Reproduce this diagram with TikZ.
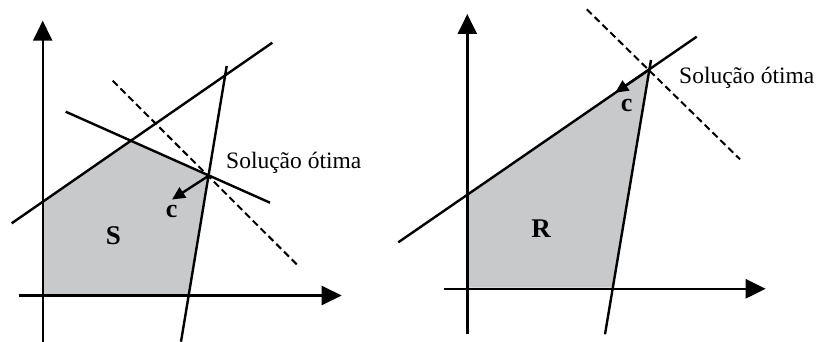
\documentclass[tikz,border=0pt]{standalone}
\usepackage{fontspec}
\setmainfont{Liberation Serif}
\usetikzlibrary{arrows.meta}
\definecolor{regiongray}{RGB}{200,201,203}
\tikzset{
  axis/.style={line width=2.4pt,-{Triangle[length=20pt,width=19pt]}},
  constraint/.style={line width=2.4pt},
  objline/.style={line width=2pt,dash pattern=on 7pt off 4pt},
  cvec/.style={line width=2.4pt,-{Triangle[length=13pt,width=12pt]}},
  region/.style={fill=regiongray},
  optlabel/.style={anchor=base west,inner sep=0pt,font=\fontsize{23.5}{27}\selectfont},
  setlabel/.style={anchor=base,inner sep=0pt,font=\bfseries\fontsize{27}{31}\selectfont},
  veclabel/.style={anchor=base,inner sep=0pt,font=\bfseries\fontsize{26}{30}\selectfont}
}
\begin{document}
\begin{tikzpicture}[x=1pt,y=-1pt]
\useasboundingbox (0,0) rectangle (817,342);
% ---------- left panel ----------
\coordinate (L1a) at (11.7,223.3);
\coordinate (L1b) at (272.3,42.7);
\coordinate (L2a) at (65.7,111.7);
\coordinate (L2b) at (270,202.7);
\coordinate (L3a) at (226.7,66);
\coordinate (L3b) at (181,341.7);
\coordinate (LDa) at (112.7,80.7);
\coordinate (LDb) at (296.7,264.3);
\coordinate (Lopt) at (208.3,176);
\coordinate (Lc) at (172,199.5);
\coordinate (LXa) at (19.3,295.5);
\coordinate (LXb) at (341.7,295.5);
\coordinate (LYa) at (42.7,341.7);
\coordinate (LYb) at (42.7,20.7);
\fill[region] (42.7,201.8) -- (130.9,140.7) -- (Lopt) -- (188.6,294) -- (42.7,294) -- cycle;
\draw[constraint] (L1a) -- (L1b);
\draw[constraint] (L2a) -- (L2b);
\draw[constraint] (L3a) -- (L3b);
\draw[objline] (LDa) -- (LDb);
\draw[axis] (LXa) -- (LXb);
\draw[axis] (LYa) -- (LYb);
\draw[cvec] (Lopt) -- (Lc);
\node[veclabel] (lcl) at (171.7,217) {c};
\node[setlabel] (ls) at (113.3,244.5) {S};
\node[optlabel] (lopt) at (226,168) {Solução ótima};
% ---------- right panel ----------
\coordinate (R1a) at (398.3,242.3);
\coordinate (R1b) at (696.7,36.7);
\coordinate (R2a) at (651,60);
\coordinate (R2b) at (605,334.3);
\coordinate (RDa) at (586.7,9.3);
\coordinate (RDb) at (740,159.3);
\coordinate (Ropt) at (649.3,69.5);
\coordinate (Rc) at (615.3,92.7);
\coordinate (RXa) at (444.3,288.8);
\coordinate (RXb) at (765.7,288.8);
\coordinate (RYa) at (467.3,334.3);
\coordinate (RYb) at (467.3,14);
\fill[region] (467.3,194.8) -- (Ropt) -- (612.9,287.5) -- (467.3,287.5) -- cycle;
\draw[constraint] (R1a) -- (R1b);
\draw[constraint] (R2a) -- (R2b);
\draw[objline] (RDa) -- (RDb);
\draw[axis] (RXa) -- (RXb);
\draw[axis] (RYa) -- (RYb);
\draw[cvec] (Ropt) -- (Rc);
\node[veclabel] (rcl) at (626.7,111.5) {c};
\node[setlabel] (rr) at (541,237.8) {R};
\node[optlabel] (ropt) at (679,84) {Solução ótima};
\end{tikzpicture}
\end{document}
